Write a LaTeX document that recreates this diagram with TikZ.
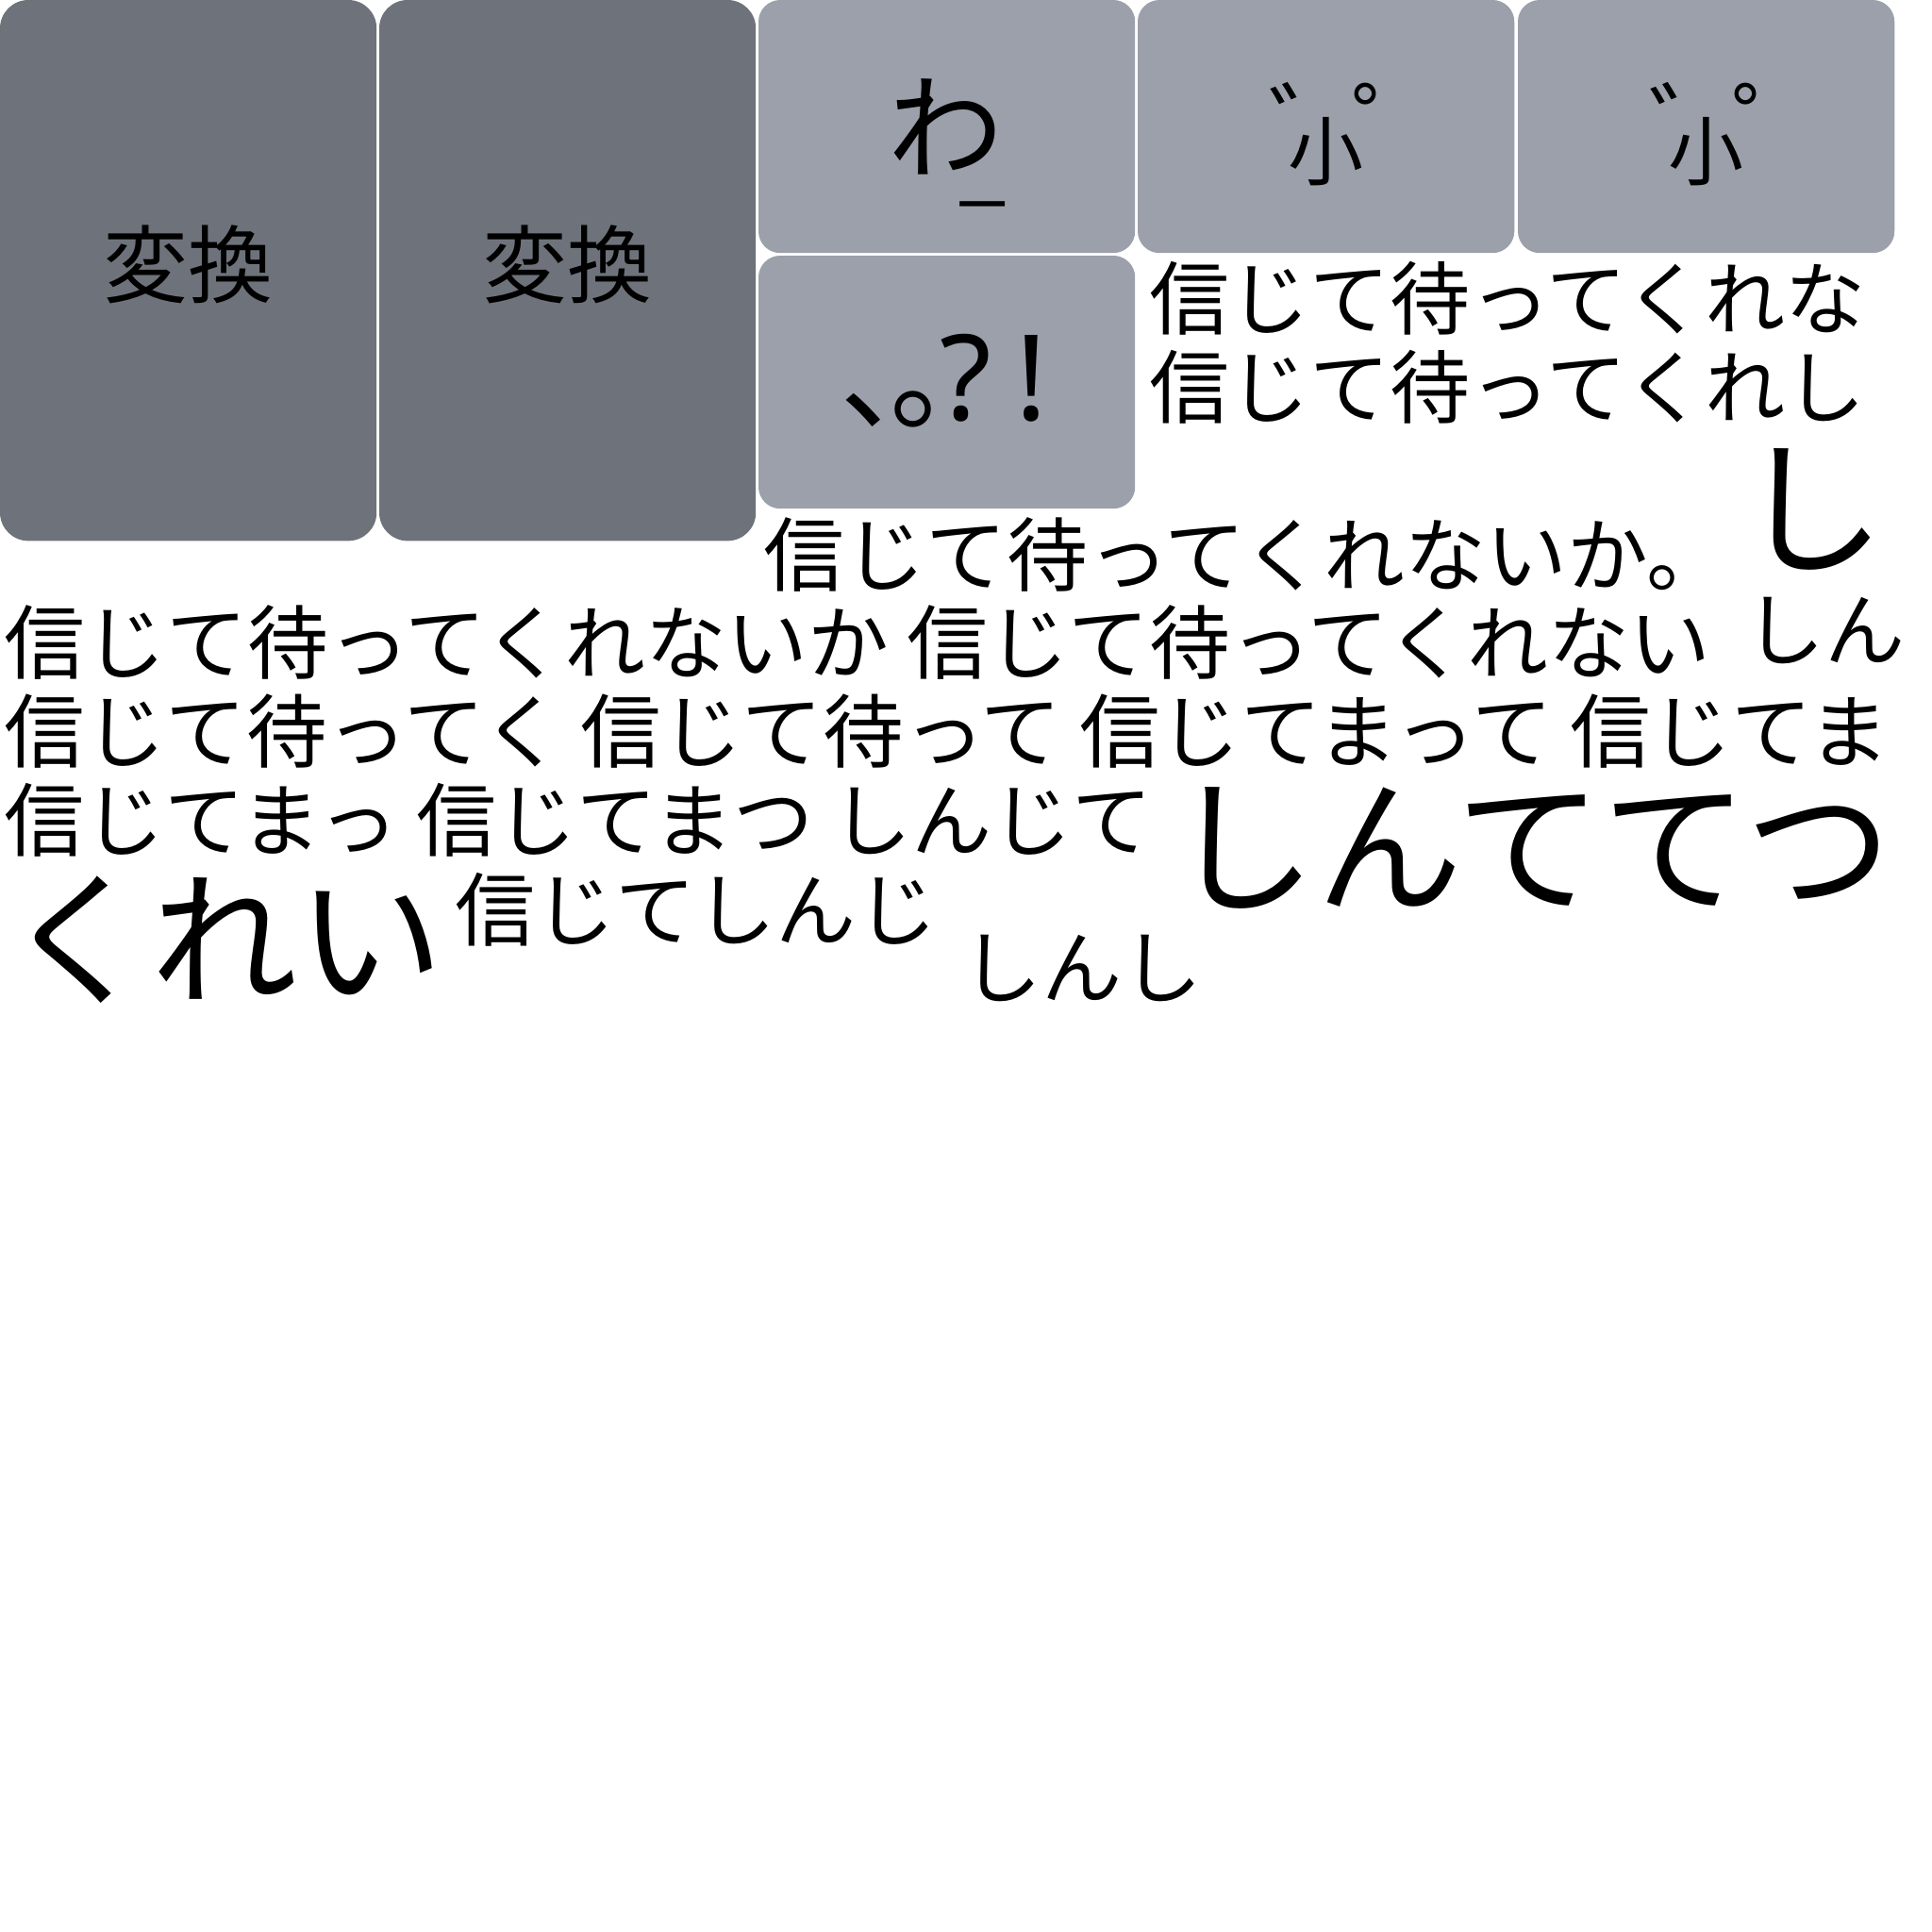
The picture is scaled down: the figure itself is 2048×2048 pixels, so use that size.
\documentclass[tikz,border=0pt]{standalone}
\usepackage{fontspec}
\newfontfamily\jp{Noto Sans CJK JP}
\newfontfamily\jpp{Noto Sans CJK JP}[RawFeature=+palt]
\newfontfamily\ns{Noto Sans}
\definecolor{keydark}{RGB}{110,115,123}
\definecolor{keylight}{RGB}{155,160,170}
\newcommand{\fs}[1]{\fontsize{#1}{#1}\selectfont}
\newsavebox\wabox
% voiced / semi-voiced marks above a small kana label
\newcommand{\kmark}[2]{\rlap{\kern#1\makebox[0pt]{\raisebox{\dimexpr29.13pt-\height\relax}{\fs{28.5pt}#2}}}}
\tikzset{
  keybase/.style={anchor=north west, inner sep=0pt, outer sep=0pt, draw=none},
  bigkey/.style={keybase, fill=keydark, rounded corners=0.3cm, minimum width=3.99cm, minimum height=5.73cm},
  smallkey/.style={keybase, fill=keylight, rounded corners=0.23cm, minimum width=3.99cm, minimum height=2.68cm},
  klabel/.style={inner sep=0pt, font=\jp\fs{25.6pt}},
  smalllabel/.style={inner sep=0pt, anchor=north, font=\jp\fs{22.76pt}},
  body/.style={anchor=base west, inner sep=0pt, font=\jp\fs{24.19pt}},
  bodyw/.style={anchor=base west, inner sep=0pt, font=\jp\fs{24.41pt}},
  bodym/.style={anchor=base west, inner sep=0pt, font=\jp\fs{24.33pt}},
  huge/.style={anchor=base west, inner sep=0pt, font=\jp\fs{44.1pt}}
}
\begin{document}
\begin{tikzpicture}[x=0.01cm,y=-0.01cm]
\useasboundingbox (0,0) rectangle (2048,2048);
\fill[white] (0,0) rectangle (2048,2048);
% keys
\node[bigkey] (k1) at (0,0) {};
\node[bigkey] (k2) at (402,0) {};
\node[smallkey] (k3) at (804,0) {};
\node[smallkey] (k4) at (1206,0) {};
\node[smallkey] (k5) at (1609,0) {};
\node[smallkey] (k6) at (804,271) {};
% key labels
\node[klabel] (l1) at (199.5,280) {変換};
\node[klabel] (l2) at (601.5,280) {変換};
\node[inner sep=0pt, anchor=north, font=\jp\fs{34.7pt}] (l3) at (1003,83)
  {\sbox\wabox{わ}\usebox\wabox\llap{\makebox[0pt]{\raisebox{\dimexpr\ht\wabox-36.7pt-(\height-\depth)/2\relax}{\fs{25.6pt}\_}}\kern6.4pt}};
\node[smalllabel] (l4) at (1406,87) {\kmark{8.54pt}{゛}\kmark{33.57pt}{゜}小};
\node[smalllabel] (l5) at (1808.5,87) {\kmark{8.54pt}{゛}\kmark{33.57pt}{゜}小};
\node[inner sep=0pt, anchor=base west] (l6) at (891,445)
  {\jpp\fs{35.85pt}、\kern-3.7pt 。\kern-2.4pt{\ns ?}\kern7.2pt{\ns !}};
% text lines
\node[body] (t1) at (1218,348) {信じて待ってくれな};
\node[body] (t2) at (1218,442) {信じて待ってくれし};
\node[bodyw] (t3) at (809,620) {信じて待ってくれないか。};
\node[bodyw] (t4) at (4,713) {信じて待ってくれないか 信じて待ってくれない};
\node[bodym] (t5) at (4,807) {信じて待ってく 信じて待って 信じてまって 信じてま};
\node[body] (t6) at (4,901) {信じてまっ 信じてまつ しんじて};
\node[body] (t7) at (482,996) {信じてしんじ};
\node[body] (t8) at (1019,1057) {しんし};
\node[body] (t9) at (1849,699) {しん};
\node[huge] (t10) at (1843,596) {し};
\node[huge] (t11) at (1240,955) {しんててつ};
\node[huge] (t12) at (5,1053) {くれい};
\end{tikzpicture}
\end{document}
